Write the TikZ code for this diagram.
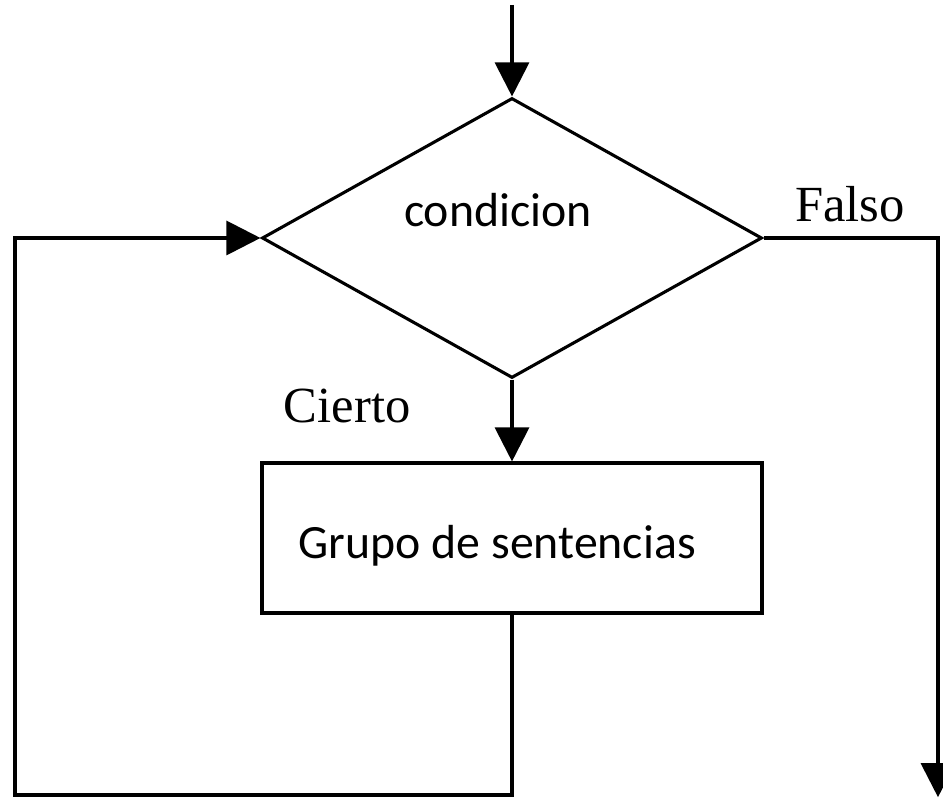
\documentclass[tikz,border=0pt]{standalone}
\usepackage{fontspec}
\setmainfont{Liberation Serif}
\newfontfamily\carlito{Carlito}
\usetikzlibrary{shapes.geometric,arrows.meta}

\tikzset{
  flecha/.style={line width=2.2pt, -{Triangle[length=0.85cm, width=0.85cm]}},
  rombo/.style={draw, diamond, line width=2.2pt, minimum width=12.5cm, minimum height=7cm, inner sep=0pt},
  caja/.style={draw, rectangle, line width=2.2pt, minimum width=12.5cm, minimum height=3.75cm, inner sep=0pt},
  texto/.style={font=\carlito\fontsize{34}{40}\selectfont},
  rotulo/.style={font=\fontsize{36}{42}\selectfont}
}

\begin{document}
\begin{tikzpicture}
  \useasboundingbox (0,0) rectangle (23.575,19.95);

  \node[rombo] (cond) at (12.8,14) {};
  \node[caja] (sent) at (12.8,6.5) {};

  \node[texto] (condtxt) at (12.45,14.7) {condicion};
  \node[texto] (senttxt) at (12.43,6.3) {Grupo de sentencias};
  \node[rotulo] (falso) at (21.25,14.85) {Falso};
  \node[rotulo] (cierto) at (8.68,9.8) {Cierto};

  \coordinate (entrada) at (12.8,19.83);
  \coordinate (vuelta) at (0.375,0.075);
  \coordinate (salida) at (23.45,0.02);

  \draw[flecha] (entrada) -- (cond.north);
  \draw[flecha] (cond.south) -- (sent.north);
  \draw[flecha] (sent.south) |- (vuelta) |- (cond.west);
  \draw[flecha] (cond.east) -| (salida);
\end{tikzpicture}
\end{document}
